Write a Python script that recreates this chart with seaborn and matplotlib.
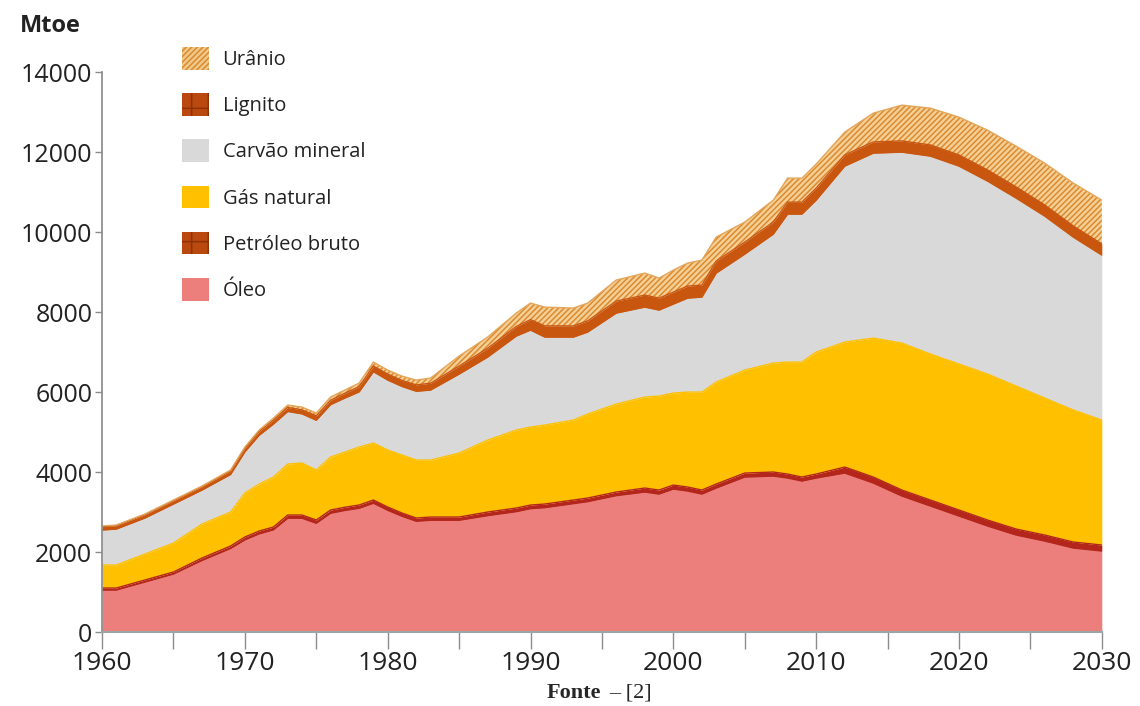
import numpy as np
import pandas as pd
import matplotlib
matplotlib.use("Agg")
import matplotlib.pyplot as plt
from matplotlib.patches import Patch
import seaborn as sns

# ---------------- data (Mtoe) ----------------
years = [1960, 1961, 1963, 1965, 1967, 1969, 1970, 1971, 1972, 1973, 1974, 1975,
         1976, 1977, 1978, 1979, 1980, 1981, 1982, 1983, 1985, 1987, 1989, 1990,
         1991, 1993, 1994, 1996, 1998, 1999, 2000, 2001, 2002, 2003, 2005, 2007,
         2008, 2009, 2010, 2012, 2014, 2016, 2018, 2020, 2022, 2024, 2026, 2028, 2030]

oleo = [1050, 1050, 1250, 1450, 1790, 2090, 2305, 2455, 2555, 2845, 2845, 2720,
        2970, 3040, 3095, 3220, 3045, 2895, 2770, 2795, 2795, 2910, 3010, 3085,
        3110, 3210, 3260, 3410, 3500, 3450, 3575, 3525, 3450, 3600, 3875, 3900,
        3850, 3775, 3850, 3975, 3725, 3400, 3150, 2900, 2650, 2425, 2275, 2100, 2025]

petroleo_bruto = [50, 50, 50, 50, 60, 60, 70, 70, 70, 80, 80, 80,
                  80, 80, 80, 80, 80, 80, 80, 80, 80, 90, 90, 90,
                  90, 90, 90, 90, 100, 100, 100, 100, 100, 100, 100, 100,
                  100, 100, 100, 150, 150, 150, 150, 150, 150, 150, 150, 150, 150]

gas_natural = [575, 575, 650, 725, 850, 850, 1100, 1175, 1250, 1275, 1300, 1250,
               1325, 1380, 1450, 1425, 1425, 1450, 1450, 1425, 1600, 1800, 1950, 1950,
               1975, 2000, 2100, 2200, 2275, 2350, 2300, 2375, 2450, 2550, 2575, 2725,
               2800, 2875, 3050, 3125, 3475, 3675, 3650, 3650, 3650, 3575, 3425, 3300, 3125]

carvao_mineral = [875, 900, 900, 975, 850, 940, 1030, 1220, 1325, 1315, 1230, 1245,
                  1310, 1350, 1380, 1785, 1750, 1715, 1720, 1750, 1975, 2075, 2350, 2425,
                  2200, 2075, 2050, 2275, 2250, 2150, 2225, 2350, 2375, 2725, 2900, 3225,
                  3700, 3700, 3800, 4400, 4625, 4775, 4950, 4950, 4825, 4700, 4550, 4325, 4125]

lignito = [85, 85, 85, 85, 85, 90, 90, 90, 100, 100, 100, 110,
           110, 120, 130, 140, 150, 150, 160, 170, 200, 220, 240, 260,
           280, 280, 280, 300, 300, 300, 300, 300, 300, 300, 300, 300,
           300, 300, 300, 280, 280, 280, 280, 280, 280, 280, 280, 280, 280]

uranio = [15, 15, 15, 15, 15, 20, 30, 40, 50, 60, 70, 70,
          80, 80, 90, 100, 100, 110, 120, 130, 250, 280, 335, 415,
          470, 445, 445, 525, 550, 500, 550, 575, 625, 600, 500, 550,
          600, 600, 600, 570, 720, 895, 920, 945, 995, 1020, 1045, 1070, 1095]

labels = ["Óleo", "Petróleo bruto", "Gás natural", "Carvão mineral", "Lignito", "Urânio"]
series = [oleo, petroleo_bruto, gas_natural, carvao_mineral, lignito, uranio]
y_ticks = [0, 2000, 4000, 6000, 8000, 10000, 12000, 14000]
x_labels = [1960, 1970, 1980, 1990, 2000, 2010, 2020, 2030]

# ---------------- style ----------------
face = {"Óleo": "#EC7F7B", "Petróleo bruto": "#B4261C", "Gás natural": "#FFC000",
        "Carvão mineral": "#D9D9D9", "Lignito": "#C9560F", "Urânio": "#F4D096"}
hatchcol = {"Urânio": "#DC8A30"}
hatches = {"Urânio": "//////"}

sns.set_theme(style="white")
plt.rcParams["font.family"] = ["Open Sans", "DejaVu Sans"]
plt.rcParams["hatch.linewidth"] = 1.1

fig = plt.figure(figsize=(11.4, 7.06), dpi=100)
ax = fig.add_axes([0.0895, 0.1048, 0.877, 0.793])

x = np.array(years, dtype=float)
polys = ax.stackplot(x, *[np.array(s, dtype=float) for s in series],
                     colors=[face[l] for l in labels], linewidth=0)
for p, lab in zip(polys, labels):
    if hatches.get(lab):
        p.set_hatch(hatches[lab])
        p.set_edgecolor(hatchcol[lab])
        p.set_linewidth(0)

# boundary lines of each layer (seaborn)
cum = np.cumsum(np.array(series, dtype=float), axis=0)
rows = []
for lab, top in zip(labels, cum):
    for yr, v in zip(years, top):
        rows.append({"ano": yr, "valor": v, "fonte": lab})
df = pd.DataFrame(rows)
edge_pal = {"Óleo": "#B4261C", "Petróleo bruto": "#B4261C", "Gás natural": "#FFC000",
            "Carvão mineral": "#C9560F", "Lignito": "#C9560F", "Urânio": "#E3A65A"}
sns.lineplot(data=df, x="ano", y="valor", hue="fonte", palette=edge_pal,
             linewidth=1.0, legend=False, ax=ax)
ax.set_xlabel("")
ax.set_ylabel("")

ax.set_xlim(1960, 2030)
ax.set_ylim(0, 14000)
ax.set_yticks(y_ticks)
ax.set_yticklabels([str(v) for v in y_ticks], fontsize=18, color="#222222")
ax.set_xticks(list(range(1960, 2031, 5)))
ax.set_xticklabels([str(v) if v % 10 == 0 else "" for v in range(1960, 2031, 5)],
                   fontsize=19, color="#222222")
ax.tick_params(axis="y", which="both", left=True, length=5, width=1, color="#8C8C8C", pad=2)
ax.tick_params(axis="x", which="both", bottom=True, length=12, width=1, color="#8C8C8C", pad=2)
for s in ["top", "right"]:
    ax.spines[s].set_visible(False)
ax.spines["left"].set_color("#8C8C8C")
ax.spines["bottom"].set_color("#9AA5A8")
ax.spines["bottom"].set_linewidth(1.5)

# legend
order = ["Urânio", "Lignito", "Carvão mineral", "Gás natural", "Petróleo bruto", "Óleo"]
leg_face = {"Urânio": "#F0C98A", "Lignito": "#B9490E", "Carvão mineral": "#D9D9D9",
            "Gás natural": "#FFC000", "Petróleo bruto": "#B9490E", "Óleo": "#EC7F7B"}
leg_hatch = {"Urânio": "//////", "Lignito": "+", "Petróleo bruto": "+"}
leg_edge = {"Urânio": "#D98A2E", "Lignito": "#8E3206", "Petróleo bruto": "#8E3206"}
handles = []
for lab in order:
    handles.append(Patch(facecolor=leg_face[lab], hatch=leg_hatch.get(lab),
                         edgecolor=leg_edge.get(lab, leg_face[lab]), linewidth=0,
                         label=lab))
leg = fig.legend(handles=handles, loc="upper left", bbox_to_anchor=(0.144, 0.959),
                 frameon=False, fontsize=14.5, handlelength=1.35, handleheight=1.35,
                 labelspacing=1.15, handletextpad=0.65)
for t in leg.get_texts():
    t.set_color("#222222")

fig.text(0.017, 0.955, "Mtoe", fontsize=17, fontweight="bold", color="#222222")
fig.text(0.527, 0.012, "Fonte", fontsize=16, fontweight="bold",
         family=["Liberation Serif", "DejaVu Serif"], ha="right")
fig.text(0.534, 0.012, "– [2]", fontsize=16,
         family=["Liberation Serif", "DejaVu Serif"], ha="left")

fig.savefig("out.png", dpi=100)
